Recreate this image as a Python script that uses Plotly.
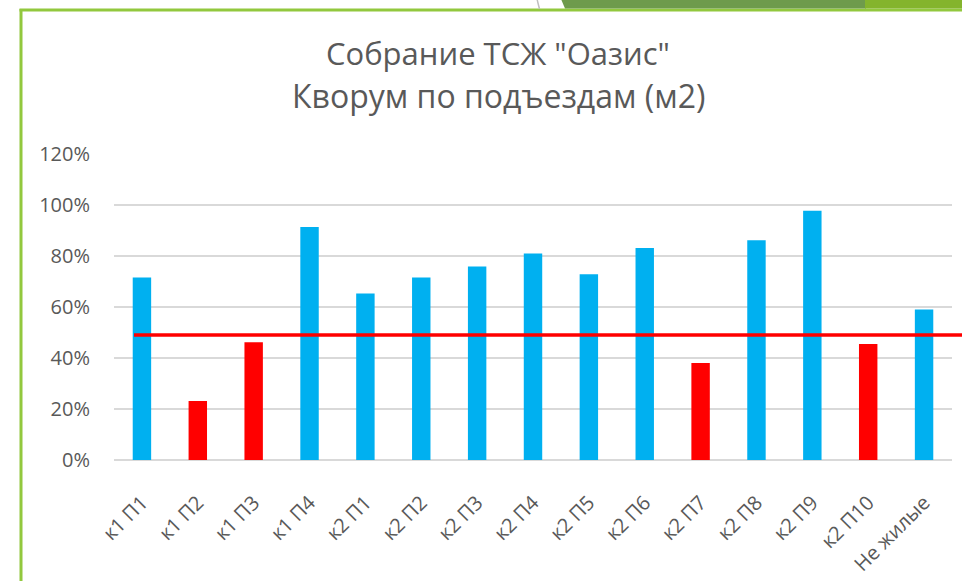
import plotly.graph_objects as go

categories = ["к1 П1", "к1 П2", "к1 П3", "к1 П4", "к2 П1", "к2 П2", "к2 П3", "к2 П4",
              "к2 П5", "к2 П6", "к2 П7", "к2 П8", "к2 П9", "к2 П10", "Не жилые"]
quorum = [0.716, 0.231, 0.462, 0.914, 0.653, 0.716, 0.759, 0.810,
          0.728, 0.831, 0.380, 0.862, 0.977, 0.455, 0.590]
threshold = 0.49
y_ticks = [0, 0.2, 0.4, 0.6, 0.8, 1.0, 1.2]
y_tick_labels = ["0%", "20%", "40%", "60%", "80%", "100%", "120%"]

BLUE = "#00B0F0"
RED = "#FF0000"
TEXT = "#595959"
GREEN = "#92C83E"
FONT = "Open Sans"

colors = [RED if v < threshold else BLUE for v in quorum]

W, H = 962, 581
ML, MR, MT, MB = 114, 10, 154, 121
PW, PH = W - ML - MR, H - MT - MB

def px(x):
    return (x - ML) / PW

def py(y):
    return (H - MB - y) / PH

fig = go.Figure()
fig.add_trace(go.Bar(x=categories, y=quorum, marker=dict(color=colors, line=dict(width=0)),
                     width=0.33, hoverinfo="x+y"))

shapes = [
    # threshold line
    dict(type="line", xref="paper", yref="y", x0=px(134), x1=px(962), y0=threshold, y1=threshold,
         line=dict(color=RED, width=3.5), layer="above"),
    # green frame
    dict(type="line", xref="paper", yref="paper", x0=px(21), x1=px(21), y0=py(9), y1=py(590),
         line=dict(color=GREEN, width=3)),
    dict(type="line", xref="paper", yref="paper", x0=px(19.5), x1=px(970), y0=py(10), y1=py(10),
         line=dict(color=GREEN, width=3)),
    # top-right decoration
    dict(type="path", xref="paper", yref="paper",
         path=f"M {px(561)} {py(-1)} L {px(866)} {py(-1)} L {px(866)} {py(8.5)} L {px(565)} {py(8.5)} Z",
         fillcolor="#6E9B4C", line=dict(width=0)),
    dict(type="rect", xref="paper", yref="paper", x0=px(865), x1=px(970), y0=py(-1), y1=py(8.5),
         fillcolor="#84B42D", line=dict(width=0)),
    dict(type="line", xref="paper", yref="paper", x0=px(537), x1=px(539.5), y0=py(-1), y1=py(9),
         line=dict(color="#BFBFBF", width=1.5)),
]

annotations = [
    dict(text='Собрание ТСЖ "Оазис"', xref="paper", yref="paper", x=px(498), y=py(53),
         xanchor="center", yanchor="middle", showarrow=False,
         font=dict(family=FONT, size=31, color=TEXT)),
    dict(text="Кворум по подъездам (м2)", xref="paper", yref="paper", x=px(498), y=py(95),
         xanchor="center", yanchor="middle", showarrow=False,
         font=dict(family=FONT, size=32, color=TEXT)),
]

fig.update_layout(
    width=W, height=H,
    margin=dict(l=ML, r=MR, t=MT, b=MB, autoexpand=False),
    paper_bgcolor="white", plot_bgcolor="white",
    showlegend=False,
    shapes=shapes, annotations=annotations,
    bargap=0.67,
    font=dict(family=FONT, color=TEXT),
    xaxis=dict(tickangle=-45, tickfont=dict(size=20, color=TEXT, family=FONT),
               showgrid=False, showline=False, ticks="outside", ticklen=22,
               tickcolor="rgba(0,0,0,0)", fixedrange=True),
    yaxis=dict(range=[0, 1.2], tickvals=y_ticks, ticktext=y_tick_labels,
               tickfont=dict(size=20, color=TEXT, family=FONT),
               showgrid=True, gridcolor="#D9D9D9", gridwidth=1.5,
               zeroline=True, zerolinecolor="#D9D9D9", zerolinewidth=1.5,
               showline=False, ticks="outside", ticklen=19, tickcolor="rgba(0,0,0,0)",
               fixedrange=True),
)

fig.write_html("out.html", config={"displayModeBar": False},
               post_script="document.body.style.margin='0';document.body.style.overflow='hidden';")
